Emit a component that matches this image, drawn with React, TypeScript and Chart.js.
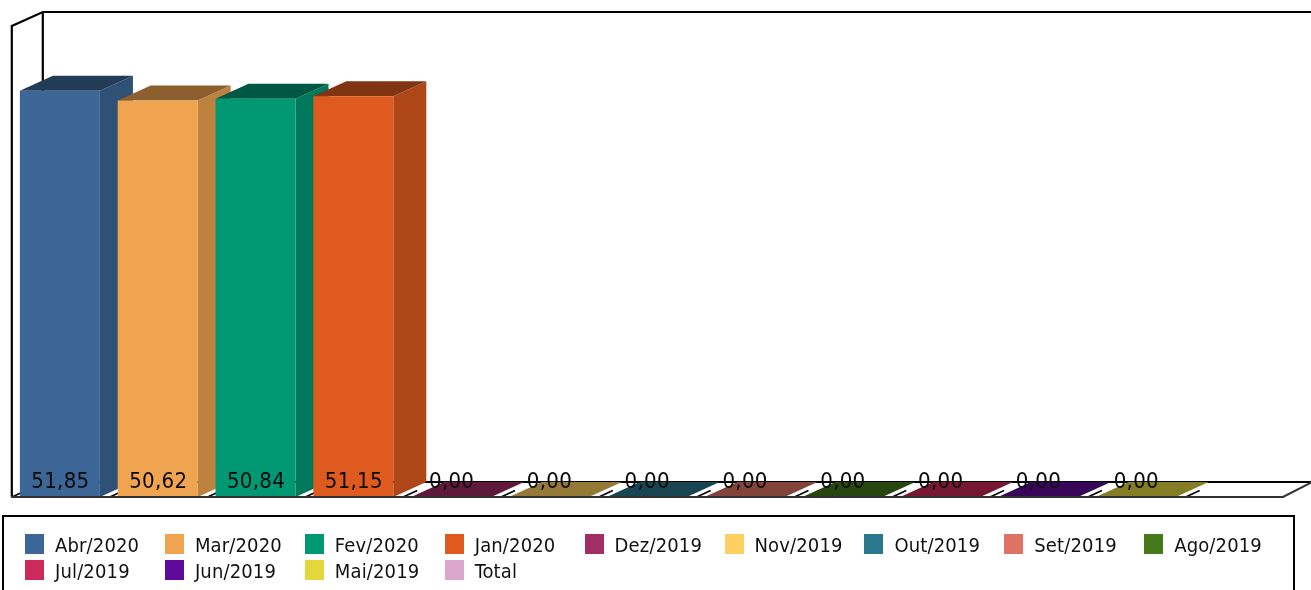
import React, { useEffect, useRef } from "react";
import Chart from "chart.js/auto";

const categories = ["Abr/2020","Mar/2020","Fev/2020","Jan/2020","Dez/2019","Nov/2019","Out/2019","Set/2019","Ago/2019","Jul/2019","Jun/2019","Mai/2019","Total"];
const values: (number | null)[] = [51.85,50.62,50.84,51.15,0,0,0,0,0,0,0,0,null];
const colors = ["#3B6695","#F0A450","#009873","#DF5A1F","#A32D65","#FFD05F","#2B778D","#DE7364","#45791A","#CB2A5A","#5F0A9A","#E4D73D","#DCA7CC"];
const yMax = 60;

const DX = 33;
const DY = 15;
const FONT = '"DejaVu Sans Condensed", "DejaVu Sans", sans-serif';

function shade(hex: string, f: number) {
  const n = parseInt(hex.slice(1), 16);
  const c = (s: number) => Math.round(((n >> s) & 255) * f);
  return `rgb(${c(16)},${c(8)},${c(0)})`;
}

function poly(ctx: CanvasRenderingContext2D, pts: number[][], fill: string) {
  ctx.beginPath();
  pts.forEach((p, i) => (i ? ctx.lineTo(p[0], p[1]) : ctx.moveTo(p[0], p[1])));
  ctx.closePath();
  ctx.fillStyle = fill;
  ctx.fill();
}

function line(ctx: CanvasRenderingContext2D, pts: number[][], color: string, w: number) {
  ctx.beginPath();
  pts.forEach((p, i) => (i ? ctx.lineTo(p[0], p[1]) : ctx.moveTo(p[0], p[1])));
  ctx.strokeStyle = color;
  ctx.lineWidth = w;
  ctx.stroke();
}

const box3d = {
  id: "box3d",
  beforeDatasetsDraw(chart: any) {
    const { ctx, chartArea: a } = chart;
    const top = a.top - 1;
    const left = a.left + 0.8;
    ctx.save();
    line(ctx, [[left, a.bottom], [left, top], [left + DX - 2, top - DY + 1], [chart.width + 2, top - DY + 1]], "#000", 2.2);
    line(ctx, [[left + DX - 2, top - DY + 1], [left + DX - 2, a.bottom - DY]], "#000", 2.2);
    line(ctx, [[left + DX - 2, a.bottom - DY], [chart.width + 2, a.bottom - DY]], "#000", 2.2);
    const step = (a.right - a.left) / categories.length;
    for (let i = 0; i < categories.length; i++) {
      const x = a.left + i * step + 1;
      line(ctx, [[x, a.bottom], [x + 14, a.bottom - 6.4]], "#000", 1.6);
    }
    const meta = chart.getDatasetMeta(0);
    meta.data.forEach((bar: any, i: number) => {
      if (values[i] === null) return;
      const l = bar.x - bar.width / 2;
      const r = bar.x + bar.width / 2;
      const y = bar.y;
      const b = bar.base;
      if (b - y > 0.5) {
        poly(ctx, [[r, y], [r + DX, y - DY], [r + DX, b - DY], [r, b]], shade(colors[i], 0.79));
      }
      poly(ctx, [[l, y], [l + DX, y - DY], [r + DX, y - DY], [r, y]], shade(colors[i], 0.58));
    });
    ctx.restore();
  },
  afterDatasetsDraw(chart: any) {
    const { ctx, chartArea: a } = chart;
    ctx.save();
    line(ctx, [[a.left, a.bottom], [a.right + 0.5, a.bottom], [chart.width + 2, a.bottom - DY - 0.5]], "#333", 2);
    const meta = chart.getDatasetMeta(0);
    ctx.font = `22px ${FONT}`;
    (ctx as any).letterSpacing = "0.3px";
    ctx.fillStyle = "#0a0a0a";
    ctx.textAlign = "center";
    ctx.textBaseline = "alphabetic";
    meta.data.forEach((bar: any, i: number) => {
      const v = values[i];
      if (v === null) return;
      ctx.fillText(v.toFixed(2).replace(".", ","), bar.x + 0.5, a.bottom - 9);
    });
    ctx.restore();
  },
};

export default function App() {
  const ref = useRef<HTMLCanvasElement>(null);
  useEffect(() => {
    document.body.style.margin = "0";
    const chart = new Chart(ref.current!, {
      type: "bar",
      data: {
        labels: categories,
        datasets: [{ data: values as any, backgroundColor: colors, borderWidth: 0, barPercentage: 0.818, categoryPercentage: 1 }],
      },
      options: {
        responsive: false,
        animation: false,
        layout: { padding: { left: 11, right: 28.5, top: 27, bottom: 93 } },
        scales: {
          x: { display: false },
          y: { display: false, min: 0, max: yMax },
        },
        plugins: { legend: { display: false }, tooltip: { enabled: false } },
      },
      plugins: [box3d],
    } as any);
    return () => chart.destroy();
  }, []);

  return (
    <div style={{ position: "relative", width: 1311, height: 590, overflow: "hidden", background: "#fff" }}>
      <canvas ref={ref} width={1311} height={590} style={{ position: "absolute", left: 0, top: 0 }} />
      <div style={{ position: "absolute", left: 2, top: 515, width: 1289, height: 100, border: "2px solid #000" }} />
      {categories.map((c, i) => {
        const col = i % 9;
        const row = Math.floor(i / 9);
        return (
          <div key={c} style={{ position: "absolute", left: 25 + col * 139.9, top: 534 + row * 26, height: 20, whiteSpace: "nowrap" }}>
            <span style={{ position: "absolute", left: 0, top: 0, width: 19, height: 20, background: colors[i] }} />
            <span style={{ position: "absolute", left: 30, top: 1, font: `20px/20px ${FONT}`, letterSpacing: "0.15px", color: "#111" }}>{c}</span>
          </div>
        );
      })}
    </div>
  );
}
